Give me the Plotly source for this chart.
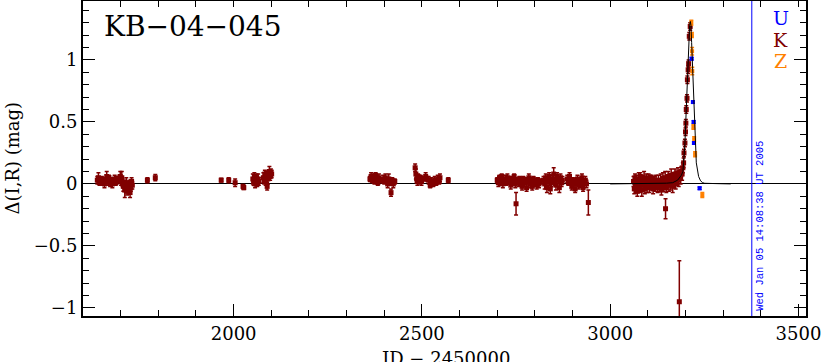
import plotly.graph_objects as go

# ---------------- data ----------------
# K (dark red) photometry, by season: JD-2450000, delta mag, error
s1_jd = [1638,1641,1644,1647,1650,1657,1660,1663,1666,1669,1672,1675,1678,1681,1684,1687,1689,
         1697,1699,1701,1703,1705,1707,1709,1711,1713,1715,1717,1719,1721,1723,1725,1727,1729,1731,
         1771,1792]
s1_mag = [0.03,0.05,0.01,0.02,0.04,0.00,0.03,0.06,0.02,0.05,0.01,0.03,0.00,0.02,0.04,0.01,0.03,
          0.04,0.06,0.02,0.05,0.01,-0.02,0.00,-0.05,-0.03,0.01,-0.06,-0.02,-0.04,0.00,-0.07,-0.03,0.02,-0.01,
          0.03,0.05]
s1_err = [0.03,0.04,0.02,0.03,0.02,0.03,0.02,0.04,0.03,0.02,0.03,0.02,0.03,0.02,0.03,0.02,0.03,
          0.03,0.04,0.03,0.05,0.03,0.04,0.03,0.06,0.03,0.04,0.03,0.04,0.03,0.03,0.04,0.03,0.03,0.03,
          0.02,0.025]

s2_jd = [1967,1987,2004,2025,2027,
         2051,2053,2055,2057,2059,2061,2063,2065,2067,2079,2081,2083,2085,2087,2089,2091,2093,2095,2097,2099,2101]
s2_mag = [0.03,0.03,0.01,-0.02,-0.03,
          0.04,0.02,0.06,0.00,0.03,0.05,0.01,0.04,0.02,0.05,0.03,0.08,0.02,0.06,-0.02,0.04,0.07,0.10,0.06,0.09,0.08]
s2_err = [0.015,0.02,0.03,0.015,0.015,
          0.04,0.03,0.03,0.03,0.04,0.03,0.03,0.04,0.03,0.04,0.03,0.03,0.03,0.04,0.03,0.04,0.03,0.04,0.03,0.03,0.03]

s3_jd = [2362,2365,2368,2371,2374,2377,2380,2383,2386,2389,2397,2400,2403,2406,2409,2412,2415,2418,2421,2424,2428,
         2482,2484,2486,2488,2490,2493,2496,2499,2502,2510,2514,2518,2522,2526,2530,2534,2538,2542,2546,2548,2570]
s3_mag = [0.04,0.06,0.03,0.05,0.02,0.07,0.04,0.01,0.05,0.03,0.04,0.02,0.05,0.03,0.00,0.04,0.01,-0.07,0.03,0.00,0.02,
          0.13,0.08,0.04,0.02,0.06,0.03,0.05,0.02,0.04,0.06,0.04,0.03,-0.01,0.02,0.00,0.03,0.01,0.04,0.02,0.05,0.03]
s3_err = [0.02,0.03,0.02,0.03,0.02,0.02,0.03,0.02,0.03,0.02,0.03,0.02,0.03,0.02,0.03,0.04,0.02,0.03,0.02,0.03,0.02,
          0.03,0.04,0.03,0.03,0.02,0.03,0.02,0.03,0.02,0.03,0.02,0.03,0.02,0.03,0.02,0.03,0.02,0.03,0.02,0.03,0.02]

s4_jd = [2700,2703,2706,2709,2712,2715,2718,2721,2724,2727,2730,2733,2736,2739,2742,2745,2748,2750,2753,2756,2759,
         2763,2766,2769,2772,2775,2778,2781,2784,2787,2790,2793,2796,2799,2802,2805,2808,2811,2814,
         2823,2826,2829,2832,2835,2838,2841,2844,2847,2850,2853,2856,2859,2862,2865,2868,2871,2873,
         2886,2889,2892,2895,2898,2901,2904,2907,2910,2913,2916,2919,2922,2925,2928,2931,2934,2937,2942]
s4_mag = [0.03,0.01,0.05,0.02,0.06,0.00,0.03,0.04,0.01,0.05,0.02,0.03,-0.01,0.04,0.02,0.06,0.00,-0.16,0.03,0.01,0.04,
          0.02,-0.02,0.04,0.01,0.03,-0.03,0.02,0.05,0.00,0.03,-0.02,0.04,0.01,0.02,-0.01,0.03,0.00,0.02,
          0.03,0.00,0.05,-0.03,0.02,0.06,-0.04,0.01,0.04,0.08,0.02,-0.01,0.06,0.03,-0.03,0.05,0.01,0.03,
          0.04,0.01,0.06,0.02,-0.02,0.03,0.00,-0.04,0.02,0.04,-0.01,0.03,0.00,0.05,-0.03,0.01,0.03,0.00,-0.15]
s4_err = [0.02,0.03,0.02,0.03,0.02,0.03,0.02,0.03,0.02,0.03,0.02,0.03,0.03,0.02,0.03,0.02,0.03,0.09,0.02,0.03,0.02,
          0.03,0.03,0.02,0.03,0.02,0.03,0.02,0.03,0.03,0.02,0.03,0.02,0.03,0.02,0.03,0.02,0.03,0.02,
          0.03,0.04,0.03,0.04,0.03,0.03,0.04,0.03,0.03,0.05,0.03,0.04,0.03,0.03,0.04,0.03,0.03,0.03,
          0.03,0.02,0.03,0.03,0.03,0.02,0.03,0.03,0.02,0.03,0.03,0.02,0.03,0.03,0.03,0.02,0.03,0.03,0.10]

s5_jd = [3062,3064,3066,3068,3070,3072,3074,3076,3078,3080,3082,3084,3086,3088,3090,3092,3094,3096,3098,3100,
         3102,3104,3106,3108,3110,3112,3114,3116,3118,3120,3122,3124,3126,3128,
         3130,3132,3134,3136,3138,3140,3142,3144,3146,3147,3149,3152,3154,3156,3158,3160,3162,3164,3166,3168,
         3170,3172,3174,3176,3178,3180,3182,3183.6,3185,3187,3189,3191,3193,
         3195,3196,3198.5,3200,3201,3202,3204,3205,3207,3208.3,3210,3212.5]
s5_mag = [0.02,-0.04,0.05,-0.02,0.03,-0.06,0.01,0.04,-0.03,0.06,0.00,-0.05,0.03,-0.01,0.05,-0.04,0.02,0.04,-0.02,0.01,
          0.05,-0.03,0.02,-0.01,0.04,0.00,-0.04,0.03,0.01,-0.02,0.03,0.00,-0.03,0.02,
          0.00,-0.03,0.03,-0.05,0.02,0.04,-0.02,0.01,0.05,-0.20,-0.03,0.02,0.06,-0.01,0.04,0.00,0.07,0.02,-0.02,0.05,
          0.03,0.08,0.01,0.06,0.04,0.09,0.03,-0.95,0.07,0.05,0.10,0.08,0.13,
          0.17,0.25,0.33,0.42,0.49,0.60,0.69,0.84,0.92,0.97,1.19,1.27]
s5_err = [0.04,0.04,0.03,0.05,0.04,0.04,0.03,0.05,0.04,0.03,0.04,0.05,0.04,0.03,0.05,0.04,0.03,0.04,0.05,0.04,
          0.03,0.04,0.05,0.04,0.03,0.04,0.04,0.03,0.05,0.04,0.04,0.03,0.04,0.05,
          0.04,0.03,0.05,0.04,0.04,0.05,0.04,0.03,0.05,0.08,0.04,0.05,0.04,0.05,0.04,0.05,0.05,0.04,0.05,0.04,
          0.05,0.04,0.05,0.04,0.05,0.04,0.05,0.33,0.04,0.05,0.04,0.05,0.04,
          0.04,0.03,0.03,0.03,0.03,0.03,0.03,0.03,0.03,0.03,0.03,0.03]

# U (blue)
u_jd = [3216.3, 3219.7, 3221.6, 3222.4, 3237.5]
u_mag = [1.01, 0.66, 0.50, 0.33, -0.035]
u_err = [0.01, 0.01, 0.01, 0.01, 0.01]

# Z (orange)
z_jd = [3215.5, 3217.0, 3217.5, 3218.0, 3221.0, 3223.0, 3225.5, 3244.7]
z_mag = [1.30, 1.20, 1.07, 0.91, 0.46, 0.36, 0.24, -0.09]
z_err = [0.02, 0.02, 0.03, 0.03, 0.02, 0.02, 0.02, 0.02]

# model light curve
model_jd = [3000, 3100, 3150, 3166, 3179, 3189, 3193, 3195, 3198.5, 3202, 3205, 3208.3, 3211, 3212.8,
            3214.5, 3216.3, 3219.7, 3221.6, 3225, 3228.7, 3234.8, 3240, 3245.5, 3251, 3290, 3320]
model_mag = [0.0, 0.002, 0.006, 0.01, 0.03, 0.07, 0.10, 0.17, 0.33, 0.60, 0.85, 1.14, 1.28, 1.31,
             1.28, 1.14, 0.87, 0.60, 0.33, 0.17, 0.06, 0.025, 0.01, 0.005, 0.002, 0.0]

date_jd = 3376.09
date_text = "Wed Jan 05 14:08:38 UT 2005"
x_range = [1600, 3520]
y_range = [-1.065, 1.475]

k_jd = s1_jd + s2_jd + s3_jd + s4_jd + s5_jd
k_mag = s1_mag + s2_mag + s3_mag + s4_mag + s5_mag
k_err = s1_err + s2_err + s3_err + s4_err + s5_err

DRED = "#800000"
BLUE = "#0000ff"
ORNG = "#ff8000"
SERIF = "DejaVu Serif"

fig = go.Figure()

def add_pts(x, y, e, color, size):
    fig.add_trace(go.Scatter(
        x=x, y=y, mode="markers",
        marker=dict(symbol="square", size=size, color=color, line=dict(width=0)),
        error_y=dict(type="data", array=e, visible=True, color=color, thickness=1.5, width=2),
        showlegend=False, hoverinfo="skip"))

add_pts(k_jd, k_mag, k_err, DRED, 5)
add_pts(z_jd, z_mag, z_err, ORNG, 4)
add_pts(u_jd, u_mag, u_err, BLUE, 4)

fig.add_trace(go.Scatter(x=model_jd, y=model_mag, mode="lines",
                         line=dict(color="black", width=1), xaxis="x2",
                         showlegend=False, hoverinfo="skip"))

fig.add_shape(type="line", xref="x", yref="paper", x0=date_jd, x1=date_jd, y0=0, y1=1,
              line=dict(color=BLUE, width=1))
fig.add_annotation(x=date_jd, xref="x", y=0, yref="paper", text=date_text, textangle=-90,
                   showarrow=False, xanchor="left", yanchor="bottom", xshift=0, yshift=3,
                   font=dict(family="Liberation Mono", size=10.5, color=BLUE))

fig.add_annotation(x=0.026, xref="paper", y=0.92, yref="paper", text="KB\u221204\u2212045",
                   showarrow=False, xanchor="left", yanchor="middle",
                   font=dict(family=SERIF, size=28, color="black"))

for txt, col, yy in [("U", BLUE, 0.947), ("K", DRED, 0.877), ("Z", ORNG, 0.81)]:
    fig.add_annotation(x=0.965, xref="paper", y=yy, yref="paper", text=txt, showarrow=False,
                       xanchor="center", yanchor="middle",
                       font=dict(family=SERIF, size=19, color=col))

# axis titles as annotations for exact placement
fig.add_annotation(x=0.5, xref="paper", y=0, yref="paper", yshift=-30, text="JD \u2212 2450000",
                   showarrow=False, xanchor="center", yanchor="top",
                   font=dict(family=SERIF, size=18, color="black"))
fig.add_annotation(x=0, xref="paper", xshift=-71, y=0.5, yref="paper", text="\u0394(I,R) (mag)",
                   textangle=-90, showarrow=False, xanchor="center", yanchor="middle",
                   font=dict(family=SERIF, size=18, color="black"))

axis_common = dict(showgrid=False, linecolor="black", linewidth=2, ticks="inside",
                   tickcolor="black", tickwidth=1, automargin=False)

fig.update_layout(
    width=821, height=362,
    margin=dict(l=83, r=15, t=1, b=46, autoexpand=False),
    plot_bgcolor="white", paper_bgcolor="white",
    font=dict(family=SERIF, size=18, color="black"),
    xaxis=dict(range=x_range, dtick=500, tick0=0, ticklen=12, mirror=False,
               minor=dict(dtick=100, ticklen=6, ticks="inside", tickcolor="black"),
               zeroline=False, tickfont=dict(family=SERIF, size=18),
               ticklabeloverflow="allow",
               **axis_common),
    xaxis2=dict(range=x_range, overlaying="x", side="top", dtick=100, tick0=0, ticklen=6,
                showticklabels=False, zeroline=False, **axis_common),
    yaxis=dict(range=y_range, dtick=0.5, tick0=0, ticklen=12, mirror="ticks",
               minor=dict(dtick=0.1, ticklen=6, ticks="inside", tickcolor="black"),
               zeroline=True, zerolinecolor="black", zerolinewidth=1.3,
               tickfont=dict(family=SERIF, size=18),
               **axis_common),
)

fig.write_html("out.html", config={"displayModeBar": False},
               post_script="document.body.style.margin='0px';document.body.style.overflow='hidden';")
